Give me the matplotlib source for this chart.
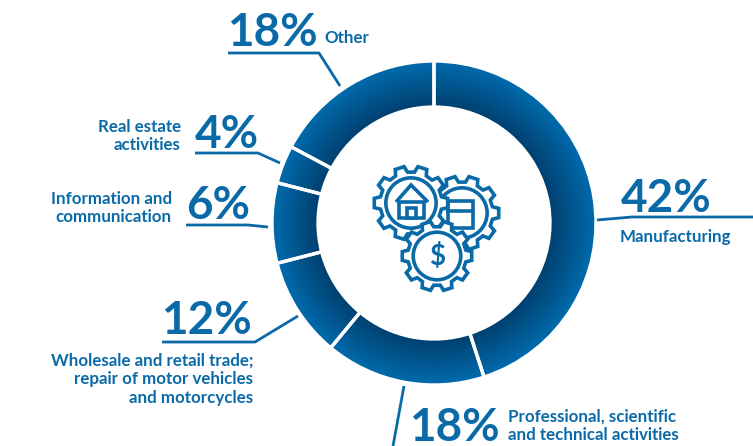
import numpy as np
import matplotlib
matplotlib.use("Agg")
import matplotlib.pyplot as plt
from matplotlib.patches import Circle, Polygon, Rectangle

BLUE = "#0a6aa8"
CENTER = (434, 223)
OUTER = 162
INNER = 116

# clockwise from 12 o'clock; arcs as drawn, which differ a bit from the printed labels
sectors = ["Manufacturing", "Professional", "Wholesale", "Information", "Real estate", "Other"]
arc_shares = [45, 16, 10, 8, 3.8, 17.2]
percent_labels = ["42%", "18%", "12%", "6%", "4%", "18%"]

plt.rcParams["font.family"] = ["Lato", "DejaVu Sans"]


def ring_gradient():
    # dark at the inner edge, lighter at the outer edge
    y, x = np.mgrid[0:446, 0:753]
    r = np.hypot(x + 0.5 - CENTER[0], y + 0.5 - CENTER[1])
    t = np.clip((r - INNER) / (OUTER - INNER), 0, 1)
    dark = np.array([0x00, 0x3f, 0x6e]) / 255
    light = np.array([0x00, 0x6c, 0xae]) / 255
    return dark + (light - dark) * t[..., None]


def gear(ax, cx, cy, r, teeth=10, lw=2.6):
    pts = []
    step = 2 * np.pi / teeth
    for i in range(teeth):
        a = i * step
        pts += [
            (a - 0.32 * step, r * 0.84),
            (a - 0.2 * step, r),
            (a + 0.2 * step, r),
            (a + 0.32 * step, r * 0.84),
        ]
    xy = [(cx + p * np.cos(a), cy + p * np.sin(a)) for a, p in pts]
    ax.add_patch(Polygon(xy, closed=True, fc="white", ec=BLUE, lw=lw, zorder=5))
    ax.add_patch(Circle((cx, cy), r * 0.68, fc="white", ec=BLUE, lw=lw, zorder=5))


def draw_icon(ax):
    # right gear with the window
    gear(ax, 462, 213, 37)
    ax.add_patch(Rectangle((448, 201), 25, 27, fc="white", ec=BLUE, lw=2.6, zorder=5))
    ax.plot([448, 473], [211, 211], color=BLUE, lw=2.6, zorder=5)
    # left gear with the house
    gear(ax, 411, 203, 37)
    ax.add_patch(Polygon([(396, 202), (411, 185), (428, 202)], closed=False, fill=False,
                         ec=BLUE, lw=2.6, zorder=6))
    ax.add_patch(Rectangle((399, 202), 25, 16, fc="white", ec=BLUE, lw=2.6, zorder=6))
    ax.add_patch(Rectangle((407, 208), 9, 10, fc="white", ec=BLUE, lw=2.6, zorder=6))
    # bottom gear with the dollar sign
    gear(ax, 437, 256, 35)
    ax.text(437, 256, "$", color=BLUE, fontsize=20, fontweight="bold", ha="center",
            va="center", zorder=7)


def main():
    fig = plt.figure(figsize=(7.53, 4.46), dpi=100)
    ax = fig.add_axes([0, 0, 1, 1])

    wedges, _ = ax.pie(
        arc_shares,
        center=CENTER,
        radius=OUTER,
        startangle=-90,
        counterclock=True,
        wedgeprops={"width": OUTER - INNER, "fc": "none", "ec": "white", "lw": 2.4, "zorder": 3},
    )
    ax.set_xlim(0, 753)
    ax.set_ylim(446, 0)
    ax.set_aspect("auto")
    ax.axis("off")

    grad = ring_gradient()
    for w in wedges:
        im = ax.imshow(grad, extent=(0, 753, 446, 0), aspect="auto", zorder=2, interpolation="bilinear")
        im.set_clip_path(w)
    ax.set_xlim(0, 753)
    ax.set_ylim(446, 0)

    # leader lines
    leaders = [
        ([228, 319, 340], [53, 53, 86]),
        ([195, 258, 280], [153, 153, 163]),
        ([186, 248, 268], [225, 225, 227]),
        ([162, 255, 298], [342, 342, 316]),
        ([404, 393], [386, 446]),
        ([597, 632, 753], [220, 217, 217]),
    ]
    for lx, ly in leaders:
        ax.plot(lx, ly, color=BLUE, lw=2.0, solid_capstyle="butt", zorder=4)

    big = {"color": BLUE, "fontsize": 33, "fontweight": "bold", "va": "baseline"}
    small = {"color": BLUE, "fontsize": 12.2, "fontweight": "bold", "linespacing": 1.2}

    ax.text(666, 212, percent_labels[0], ha="center", **big)
    ax.text(454, 441, percent_labels[1], ha="center", **big)
    ax.text(206, 334, percent_labels[2], ha="center", **big)
    ax.text(218, 219, percent_labels[3], ha="center", **big)
    ax.text(227, 148, percent_labels[4], ha="center", **big)
    ax.text(272, 46, percent_labels[5], ha="center", **big)

    ax.text(620, 237, "Manufacturing", ha="left", va="center", **small)
    ax.text(508, 426, "Professional, scientific\nand technical activities", ha="left", va="center", **small)
    ax.text(253, 379, "Wholesale and retail trade;\nrepair of motor vehicles\nand motorcycles", ha="right",
            va="center", **small)
    ax.text(172, 208, "Information and\ncommunication", ha="right", va="center", **small)
    ax.text(181, 136, "Real estate\nactivities", ha="right", va="center", **small)
    ax.text(324, 38, "Other", ha="left", va="center", **small)

    draw_icon(ax)

    fig.savefig("out.png", dpi=100)


if __name__ == "__main__":
    main()
